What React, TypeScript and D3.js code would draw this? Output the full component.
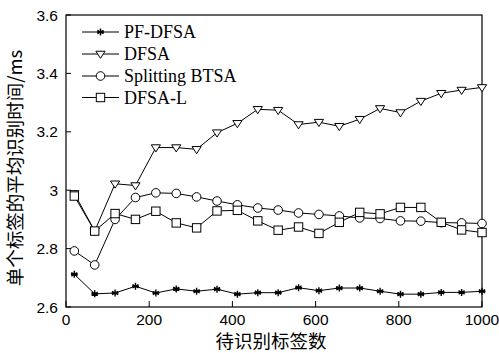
import React from "react";
import * as d3 from "d3";

const xTicks = [0, 200, 400, 600, 800, 1000];
const yTicks = [2.6, 2.8, 3.0, 3.2, 3.4, 3.6];
const yTickLabels = ["2.6", "2.8", "3", "3.2", "3.4", "3.6"];
const tagCounts = d3.range(21).map((i) => 20 + 49 * i);

const pfDfsa = [2.712, 2.645, 2.648, 2.671, 2.648, 2.662, 2.654, 2.661, 2.644, 2.649, 2.649, 2.666, 2.656, 2.665, 2.665, 2.654, 2.644, 2.644, 2.65, 2.65, 2.654];
const dfsa = [2.989, 2.86, 3.022, 3.016, 3.146, 3.146, 3.14, 3.197, 3.229, 3.277, 3.274, 3.225, 3.233, 3.219, 3.243, 3.28, 3.266, 3.305, 3.332, 3.343, 3.352];
const splitting = [2.792, 2.744, 2.9, 2.975, 2.991, 2.989, 2.977, 2.963, 2.95, 2.939, 2.932, 2.922, 2.917, 2.912, 2.905, 2.903, 2.895, 2.894, 2.889, 2.888, 2.886];
const dfsaL = [2.98, 2.86, 2.92, 2.9, 2.928, 2.888, 2.871, 2.929, 2.931, 2.895, 2.863, 2.874, 2.852, 2.89, 2.924, 2.919, 2.941, 2.941, 2.89, 2.864, 2.855];

const seriesNames = ["PF-DFSA", "DFSA", "Splitting BTSA", "DFSA-L"];
const seriesValues = [pfDfsa, dfsa, splitting, dfsaL];
const markerKinds = ["star", "tri", "circle", "square"];

const W = 499;
const H = 353;
const left = 66;
const right = 482;
const top = 15;
const bottom = 307;

function Marker({ kind, x, y }: { kind: string; x: number; y: number }) {
  if (kind === "star") {
    const r = 3.5;
    const d = [0, 60, 120].map((a) => {
      const rad = (a * Math.PI) / 180;
      const dx = r * Math.sin(rad);
      const dy = r * Math.cos(rad);
      return `M${x - dx},${y - dy}L${x + dx},${y + dy}`;
    }).join("") + `M${x - r},${y}L${x + r},${y}`;
    return <path d={d} stroke="#000" strokeWidth={1.4} fill="none" />;
  }
  if (kind === "tri") {
    const s = 4.6;
    const d = `M${x - s},${y - s * 0.6}L${x + s},${y - s * 0.6}L${x},${y + s * 0.95}Z`;
    return <path d={d} stroke="#000" strokeWidth={1} fill="#fff" />;
  }
  if (kind === "circle") {
    return <circle cx={x} cy={y} r={4.3} stroke="#000" strokeWidth={1} fill="#fff" />;
  }
  const s = 4.2;
  return <rect x={x - s} y={y - s} width={2 * s} height={2 * s} stroke="#000" strokeWidth={1} fill="#fff" />;
}

export default function App() {
  const x = d3.scaleLinear().domain([0, 1000]).range([left, right]);
  const y = d3.scaleLinear().domain([2.6, 3.6]).range([bottom, top]);
  const line = d3.line<number>().x((_, i) => x(tagCounts[i])).y((v) => y(v));
  const tickFont = "Liberation Sans, Arial, sans-serif";
  const cjkFont = "Noto Sans CJK SC, sans-serif";
  const legendY = [32, 54, 76, 97.5];

  return (
    <svg width={W} height={H} style={{ position: "absolute", left: 0, top: 0, background: "#fff" }}>
      <rect x={0} y={0} width={W} height={H} fill="#fff" />
      <rect x={left} y={top} width={right - left} height={bottom - top} fill="none" stroke="#000" strokeWidth={1.2} />
      {xTicks.map((t) => (
        <g key={"x" + t}>
          <line x1={x(t)} x2={x(t)} y1={bottom} y2={bottom - 6} stroke="#000" strokeWidth={1} />
          <text x={x(t)} y={325} textAnchor="middle" fontFamily={tickFont} fontSize={15.5} fill="#000">{t}</text>
        </g>
      ))}
      {yTicks.map((t, i) => (
        <g key={"y" + t}>
          <line x1={left} x2={left + 5} y1={y(t)} y2={y(t)} stroke="#000" strokeWidth={1} />
          <text x={left - 8} y={y(t) + 5.5} textAnchor="end" fontFamily={tickFont} fontSize={15.5} fill="#000">{yTickLabels[i]}</text>
        </g>
      ))}
      {seriesValues.map((vals, si) => (
        <g key={"s" + si}>
          <path d={line(vals) || ""} fill="none" stroke="#000" strokeWidth={1} />
          {vals.map((v, i) => (
            <Marker key={i} kind={markerKinds[si]} x={x(tagCounts[i])} y={y(v)} />
          ))}
        </g>
      ))}
      {seriesNames.map((n, i) => (
        <g key={"l" + i}>
          <line x1={82} x2={119} y1={legendY[i]} y2={legendY[i]} stroke="#000" strokeWidth={1} />
          <Marker kind={markerKinds[i]} x={100.5} y={legendY[i]} />
          <text x={124} y={legendY[i] + 6} fontFamily="Liberation Serif, Times New Roman, serif" fontSize={18} fill="#000">{n}</text>
        </g>
      ))}
      <text x={271} y={347.5} textAnchor="middle" fontFamily={cjkFont} fontSize={18.5} fill="#000">待识别标签数</text>
      <text transform="translate(22,168) rotate(-90)" textAnchor="middle" fontFamily={cjkFont} fontSize={18.5} fill="#000">单个标签的平均识别时间/ms</text>
    </svg>
  );
}
